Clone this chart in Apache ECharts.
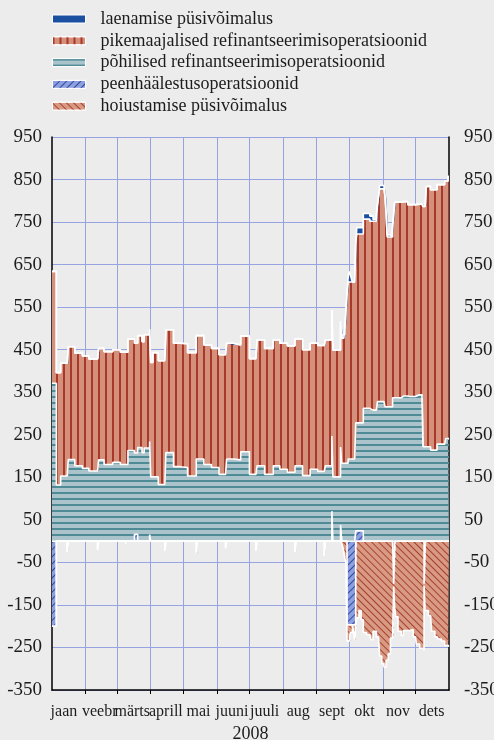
<!DOCTYPE html>
<html>
<head>
<meta charset="utf-8">
<script src="https://cdn.jsdelivr.net/npm/echarts@6/dist/echarts.min.js"></script>
<style>
  html, body { margin: 0; padding: 0; background: #ececec; }
  #chart { width: 494px; height: 740px; }
</style>
</head>
<body>
<div id="chart"></div>
<script>
// Eurosüsteemi likviidsust andvad ja vähendavad operatsioonid 2008 (mld eurot), päevad aasta algusest (1 = 1. jaan)
const days = [
  1, 5, 9, 15, 16, 22, 29, 35, 43, 44,
  49, 57, 64, 69, 70, 71, 77, 80, 84, 86,
  91, 92, 94, 99, 105, 106, 113, 119, 126, 134,
  135, 141, 148, 155, 161, 162, 168, 175, 183, 189,
  190, 197, 205, 211, 218, 225, 226, 232, 239, 246,
  252, 253, 259, 260, 267, 268, 269, 270, 271, 272,
  273, 274, 275, 276, 277, 278, 279, 280, 281, 282,
  284, 286, 288, 291, 294, 295, 297, 300, 301, 302,
  303, 305, 307, 308, 309, 310, 311, 313, 314, 315,
  316, 317, 318, 320, 323, 325, 329, 330, 331, 334,
  336, 337, 340, 342, 343, 344, 345, 346, 348, 350,
  351, 354, 356, 357, 360, 363, 364, 366, 367
];

// peenhäälestusoperatsioonid (likviidsust andvad)
const fineTunePos = [
  0, 0, 0, 0, 0, 0, 0, 0, 0, 0,
  0, 0, 0, 0, 0, 0, 16, 0, 0, 0,
  15, 0, 0, 0, 0, 0, 0, 0, 0, 0,
  0, 0, 0, 0, 0, 0, 0, 0, 0, 0,
  0, 0, 0, 0, 0, 0, 0, 0, 0, 0,
  0, 0, 70, 0, 38, 0, 0, 0, 0, 0,
  0, 0, 0, 0, 0, 0, 0, 0, 24, 24,
  24, 24, 0, 0, 0, 0, 0, 0, 0, 0,
  0, 0, 0, 0, 0, 0, 0, 0, 0, 0,
  0, 0, 0, 0, 0, 0, 0, 0, 0, 0,
  0, 0, 0, 0, 0, 0, 0, 0, 0, 0,
  0, 0, 0, 0, 0, 0, 0, 0, 0
];

// põhilised refinantseerimisoperatsioonid
const mainRefi = [
  371, 132, 153, 153, 192, 177, 171, 165, 165, 191,
  180, 185, 180, 180, 180, 213, 191, 220, 208, 219,
  219, 151, 151, 133, 133, 208, 175, 173, 153, 193,
  193, 180, 173, 157, 157, 193, 191, 210, 157, 157,
  177, 157, 177, 169, 162, 177, 177, 154, 169, 164,
  164, 177, 177, 151, 183, 183, 183, 183, 183, 183,
  183, 193, 193, 193, 193, 193, 193, 193, 254, 254,
  254, 254, 312, 312, 308, 308, 308, 308, 328, 328,
  328, 328, 328, 316, 316, 316, 316, 316, 316, 337,
  337, 337, 337, 337, 341, 341, 341, 340, 340, 340,
  344, 344, 344, 344, 222, 222, 222, 222, 222, 214,
  214, 214, 228, 228, 228, 228, 241, 241, 241
];

// pikemaajalised refinantseerimisoperatsioonid
const longerTermRefi = [
  263, 264, 265, 265, 265, 265, 264, 263, 263, 262,
  265, 265, 264, 264, 264, 262, 258, 263, 261, 266,
  264, 269, 292, 291, 291, 289, 290, 291, 290, 290,
  290, 281, 280, 281, 281, 272, 270, 272, 272, 272,
  296, 296, 296, 296, 297, 298, 298, 296, 296, 296,
  296, 296, 296, 298, 295, 294, 294, 294, 317, 362,
  402, 416, 416, 416, 416, 416, 416, 416, 422, 444,
  444, 444, 445, 445, 444, 444, 444, 444, 462, 482,
  500, 500, 500, 494, 454, 399, 399, 399, 399, 403,
  433, 460, 460, 460, 457, 457, 450, 451, 451, 451,
  448, 448, 448, 448, 565, 565, 565, 612, 612, 612,
  612, 612, 610, 610, 610, 618, 605, 616, 616
];

// laenamise püsivõimalus
const marginalLending = [
  0, 0, 0, 0, 0, 0, 0, 0, 0, 0,
  0, 0, 0, 0, 0, 0, 0, 0, 0, 0,
  0, 0, 0, 0, 0, 0, 0, 0, 0, 0,
  0, 0, 0, 0, 0, 0, 0, 0, 0, 0,
  0, 0, 0, 0, 0, 0, 0, 0, 0, 0,
  0, 0, 0, 0, 0, 0, 8, 8, 0, 0,
  0, 10, 25, 18, 8, 0, 0, 0, 0, 15,
  15, 15, 13, 13, 12, 12, 4, 18, 0, 0,
  8, 8, 8, 0, 0, 5, 5, 5, 0, 0,
  0, 0, 0, 0, 0, 0, 0, 0, 0, 0,
  0, 0, 0, 0, 0, 0, 0, 0, 0, 0,
  0, 0, 0, 0, 0, 0, 0, 0, 0
];

// peenhäälestusoperatsioonid (likviidsust vähendavad)
const fineTuneNeg = [
  -200, 0, 0, -25, 0, 0, 0, 0, -21, 0,
  0, 0, 0, -5, 0, 0, 0, 0, 0, 0,
  0, 0, 0, 0, -23, 0, 0, 0, 0, -27,
  0, 0, 0, 0, -17, 0, 0, 0, 0, -23,
  0, 0, 0, 0, 0, -25, 0, 0, 0, 0,
  -35, 0, 0, 0, 0, 0, 0, 0, 0, 0,
  -197, -197, -197, -197, -197, -197, -197, -197, 0, 0,
  0, 0, 0, 0, 0, 0, 0, 0, 0, 0,
  0, 0, 0, 0, 0, 0, 0, 0, 0, 0,
  -100, 0, 0, 0, 0, 0, 0, 0, 0, 0,
  0, 0, 0, 0, 0, -100, 0, 0, 0, 0,
  0, 0, 0, 0, 0, 0, 0, 0, 0
];

// hoiustamise püsivõimalus
const depositFacility = [
  0, 0, 0, 0, 0, 0, 0, 0, 0, 0,
  0, 0, 0, 0, 0, 0, 0, 0, 0, 0,
  0, 0, 0, 0, 0, 0, 0, 0, 0, 0,
  0, 0, 0, 0, 0, 0, 0, 0, 0, 0,
  0, 0, 0, 0, 0, 0, 0, 0, 0, 0,
  0, 0, 0, 0, 0, -5, -13, -25, -40, -52,
  -38, -38, -38, -18, -18, -2, -15, -36, -200, -180,
  -163, -185, -215, -220, -220, -232, -212, -225, -225, -225,
  -270, -288, -296, -296, -280, -280, -265, -228, -228, -228,
  -7, -160, -178, -212, -222, -210, -210, -210, -208, -225,
  -225, -242, -252, -256, -256, -5, -163, -163, -175, -175,
  -212, -225, -225, -230, -235, -245, -245, -248, -248
];

// Kuude algused ja kuunimede asukohad (päevad)
const monthStarts = [32, 61, 92, 122, 153, 183, 214, 245, 275, 306, 336];
const monthLabelDays = [12, 45, 75, 106, 136, 167, 197, 228, 259, 289, 320, 351];
const monthNames = ['jaan', 'veebr', 'märts', 'aprill', 'mai', 'juuni', 'juuli', 'aug', 'sept', 'okt', 'nov', 'dets'];
const yTicks = [-350, -250, -150, -50, 50, 150, 250, 350, 450, 550, 650, 750, 850, 950];

const NAMES = {
  mlf: 'laenamise püsivõimalus',
  ltro: 'pikemaajalised refinantseerimisoperatsioonid',
  mro: 'põhilised refinantseerimisoperatsioonid',
  fto: 'peenhäälestusoperatsioonid',
  dep: 'hoiustamise püsivõimalus'
};

const FONT = 'Liberation Serif';
const TEXT = '#1c1c1c';

function stripes(opts) {
  return Object.assign({ symbol: 'rect', symbolSize: 1 }, opts);
}

const STYLE = {
  mlf: { fill: '#1b4f9f' },
  ltro: { fill: '#d4907a', decal: { dashArrayX: [1.6, 5], dashArrayY: [1, 0], color: '#a7382a' } },
  mro: { fill: '#abc3ca', decal: { dashArrayX: [1, 0], dashArrayY: [1.3, 3.3], color: '#4f8b97' } },
  fto: { fill: '#8d9fdc', decal: { dashArrayX: [1, 0], dashArrayY: [1, 4], rotation: -Math.PI / 4, color: '#2d4aa6' } },
  dep: { fill: '#d99a84', decal: { dashArrayX: [1, 0], dashArrayY: [1, 4], rotation: Math.PI / 4, color: '#a5402f' } }
};

// Väärtus on esimene mõõde, et virnastus toimuks väärtuse (y) järgi, mitte päeva järgi
function rows(values) {
  return days.map((d, i) => [values[i], d]);
}

function fillStyle(key) {
  const s = STYLE[key];
  const st = { color: s.fill };
  if (s.decal) st.decal = stripes(s.decal);
  return st;
}

function area(key, stack, values) {
  const s = STYLE[key];
  const lineStyle = { color: '#ffffff', width: 1.6 };
  if (s.decal) lineStyle.decal = stripes(s.decal);
  return {
    name: NAMES[key],
    type: 'line',
    stack: stack,
    stackStrategy: 'all',
    step: 'end',
    data: rows(values),
    encode: { x: 1, y: 0 },
    symbol: 'none',
    showSymbol: false,
    silent: true,
    animation: false,
    lineStyle: lineStyle,
    itemStyle: fillStyle(key),
    areaStyle: { color: s.fill, opacity: 1 },
    emphasis: { disabled: true }
  };
}

const legendKeys = ['mlf', 'ltro', 'mro', 'fto', 'dep'];

const chart = echarts.init(document.getElementById('chart'), null, { renderer: 'canvas' });
chart.setOption({
  backgroundColor: '#ececec',
  animation: false,
  textStyle: { fontFamily: FONT },
  legend: {
    orient: 'vertical',
    left: 52,
    top: 9,
    padding: 0,
    itemWidth: 33,
    itemHeight: 8,
    itemGap: 1.8,
    selectedMode: false,
    icon: 'rect',
    textStyle: { fontFamily: FONT, fontSize: 18, color: TEXT, lineHeight: 20, padding: [0, 0, 0, 10] },
    data: legendKeys.map(k => ({
      name: NAMES[k],
      icon: 'rect',
      itemStyle: Object.assign(fillStyle(k), { borderColor: '#ffffff', borderWidth: 1 })
    }))
  },
  grid: { left: 52, right: 45, top: 137, bottom: 50, containLabel: false, outerBoundsMode: 'none' },
  xAxis: {
    type: 'value',
    min: 1,
    max: 367,
    position: 'bottom',
    axisLine: { show: true, onZero: false, lineStyle: { color: '#000000', width: 1.5 } },
    axisTick: { show: true, customValues: monthStarts, length: 4, lineStyle: { color: '#000000', width: 1 } },
    splitLine: { show: true, lineStyle: { color: '#95a3e1', width: 1 } },
    axisLabel: {
      customValues: monthLabelDays,
      formatter: v => monthNames[monthLabelDays.indexOf(v)] || '',
      fontFamily: FONT, fontSize: 16, color: TEXT, margin: 14
    },
    name: '2008',
    nameLocation: 'middle',
    nameGap: 35,
    nameTextStyle: { fontFamily: FONT, fontSize: 18, color: TEXT }
  },
  yAxis: [
    {
      type: 'value', min: -350, max: 950, position: 'left',
      axisLine: { show: true, onZero: false, lineStyle: { color: '#000000', width: 1.5 } },
      axisTick: { show: false, customValues: yTicks },
      splitLine: { show: true, lineStyle: { color: '#95a3e1', width: 1 } },
      axisLabel: { customValues: yTicks, fontFamily: FONT, fontSize: 19, color: TEXT, margin: 10 }
    },
    {
      type: 'value', min: -350, max: 950, position: 'right',
      axisLine: { show: true, onZero: false, lineStyle: { color: '#000000', width: 1.5 } },
      axisTick: { show: false, customValues: yTicks },
      splitLine: { show: false },
      axisLabel: { customValues: yTicks, fontFamily: FONT, fontSize: 19, color: TEXT, margin: 15 }
    }
  ],
  series: [
    area('fto', 'pos', fineTunePos),
    area('mro', 'pos', mainRefi),
    area('ltro', 'pos', longerTermRefi),
    area('mlf', 'pos', marginalLending),
    area('fto', 'neg', fineTuneNeg),
    area('dep', 'neg', depositFacility)
  ]
});
</script>
</body>
</html>
